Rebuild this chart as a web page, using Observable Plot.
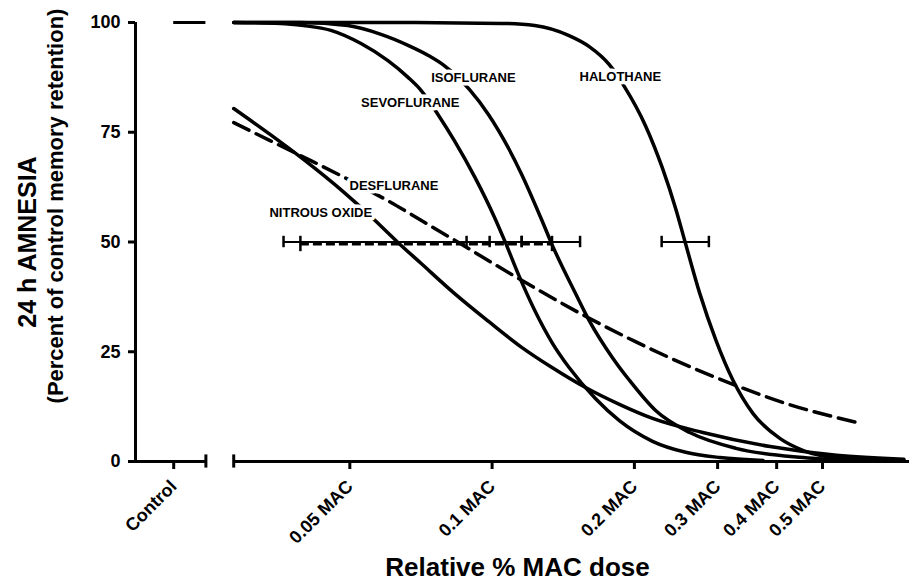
<!DOCTYPE html>
<html><head><meta charset="utf-8">
<script src="https://cdn.jsdelivr.net/npm/d3@7"></script>
<script src="https://cdn.jsdelivr.net/npm/@observablehq/plot@0.6"></script>
<style>body{margin:0;background:#fff}#chart{width:909px;height:584px}</style>
</head><body><div id="chart"></div>
<script>
// ---- data (dose as fraction of MAC, value = % of control memory retention) ----
const halothane = [[0.0284,100],[0.0642,100],[0.1048,99.8],[0.1231,99.3],[0.1455,97.0],[0.1605,94.5],[0.1770,90.4],[0.1905,85.4],[0.2111,76.5],[0.2295,66.7],[0.2446,57.6],[0.2556,50.3],[0.2750,38.3],[0.2976,27.6],[0.3233,18.5],[0.3566,10.9],[0.4069,5.2],[0.4556,2.5],[0.5355,0.9],[0.7436,0.2]];
const isoflurane = [[0.0284,100],[0.0393,100],[0.0495,99.3],[0.0582,97.3],[0.0664,94.8],[0.0733,92.5],[0.0792,90.2],[0.0896,84.7],[0.0983,79.0],[0.1084,71.3],[0.1155,65.4],[0.1275,54.9],[0.1339,49.4],[0.1498,38.5],[0.1605,32.1],[0.1796,23.7],[0.1952,18.5],[0.2218,11.6],[0.2619,6.6],[0.3281,3.0],[0.4556,0.9],[0.5821,0.2]];
const sevoflurane = [[0.0284,100],[0.0357,99.8],[0.0399,99.3],[0.0456,98.2],[0.0528,95.2],[0.0602,91.3],[0.0664,87.5],[0.0708,84.5],[0.0773,78.6],[0.0832,73.1],[0.0918,64.9],[0.1012,55.6],[0.1063,50.3],[0.1139,42.4],[0.1231,34.4],[0.1339,27.1],[0.1455,21.4],[0.1652,14.4],[0.1859,9.3],[0.2185,4.6],[0.2568,2.1],[0.3034,0.9],[0.3744,0.2]];
const nitrousOxide = [[0.0284,80.4],[0.0339,74.5],[0.0399,68.8],[0.0486,61.3],[0.0554,55.8],[0.0632,49.9],[0.0708,45.1],[0.0832,38.3],[0.0983,31.9],[0.1155,26.0],[0.1339,21.4],[0.1573,16.9],[0.1859,13.0],[0.2185,9.8],[0.2791,6.6],[0.3875,3.4],[0.5355,1.4],[0.7436,0.5]];
const desflurane = [[0.0284,77.2],[0.0339,73.1],[0.0393,69.7],[0.0479,65.1],[0.0554,61.5],[0.0611,59.0],[0.0674,56.3],[0.0769,52.6],[0.0849,49.9],[0.0950,46.7],[0.1100,42.6],[0.1256,39.0],[0.1550,33.5],[0.2011,27.3],[0.2619,21.6],[0.3281,17.3],[0.4190,13.2],[0.5906,8.9]];

const errorBarsSolid = [
  {agent:"NITROUS OXIDE", lo:0.0362, hi:0.0988, value:50},
  {agent:"SEVOFLURANE", lo:0.0883, hi:0.1155, value:50},
  {agent:"ISOFLURANE", lo:0.1155, hi:0.1535, value:50},
  {agent:"HALOTHANE", lo:0.2284, hi:0.2875, value:50}
];
const errorBarsDashed = [{agent:"DESFLURANE", lo:0.0393, hi:0.1339, value:50}];

const curveLabels = [
  {name:"HALOTHANE", dose:0.1868, value:87.7},
  {name:"ISOFLURANE", dose:0.0913, value:87.5},
  {name:"SEVOFLURANE", dose:0.0671, value:81.8},
  {name:"DESFLURANE", dose:0.0620, value:62.9},
  {name:"NITROUS OXIDE", dose:0.0434, value:56.7}
];

const controlDose = 0.0212;     // position of the "Control" category on the broken axis
const controlValue = 100;
const controlEnd = 0.0248;      // end of the control axis segment
const mainStart = 0.0284;       // start of the dose axis segment
const xDomain = [0.0176, 0.764];
const xTicks = [controlDose, 0.05, 0.1, 0.2, 0.3, 0.4, 0.5];
const xTickLabels = ["Control", "0.05 MAC", "0.1 MAC", "0.2 MAC", "0.3 MAC", "0.4 MAC", "0.5 MAC"];
const yTicks = [0, 25, 50, 75, 100];

// ---- build tables ----
const toRows = (agent, arr) => arr.map(([dose, value]) => ({agent, dose, value}));
const solidRows = [
  ...toRows("HALOTHANE", halothane),
  ...toRows("ISOFLURANE", isoflurane),
  ...toRows("SEVOFLURANE", sevoflurane),
  ...toRows("NITROUS OXIDE", nitrousOxide)
];
const dashedRows = toRows("DESFLURANE", desflurane);
const solidCaps = errorBarsSolid.flatMap(d => [{x:d.lo, value:d.value}, {x:d.hi, value:d.value}]);
const dashedCaps = errorBarsDashed.flatMap(d => [{x:d.lo, value:d.value}, {x:d.hi, value:d.value}]);
const axisSegments = [{x1:xDomain[0], x2:controlEnd}, {x1:mainStart, x2:xDomain[1]}];

const labelFont = "'Liberation Sans', Arial, sans-serif";

const chart = Plot.plot({
  width: 909,
  height: 584,
  marginLeft: 135,
  marginRight: 0,
  marginTop: 22,
  marginBottom: 123,
  style: {fontFamily: labelFont, color: "black", background: "white"},
  x: {type: "log", domain: xDomain},
  y: {domain: [0, 100]},
  marks: [
    // y axis line
    Plot.ruleX([xDomain[0]], {y1: 0, y2: 100, strokeWidth: 3}),
    Plot.axisY(yTicks, {tickSize: 7, tickPadding: 8, strokeWidth: 3, fontSize: 18, fontWeight: "bold", label: null}),
    // broken x axis
    Plot.ruleY(axisSegments, {x1: "x1", x2: "x2", y: 0, strokeWidth: 3}),
    Plot.ruleX([controlEnd, mainStart], {x: d => d, y1: -1.5, y2: 1.5, strokeWidth: 3}),
    Plot.axisX(xTicks, {tickSize: 8, tickPadding: 14, strokeWidth: 3, tickRotate: -45, fontSize: 18, fontWeight: "bold",
      tickFormat: d => xTickLabels[xTicks.indexOf(d)], label: null}),
    // control level
    Plot.ruleY([controlValue], {x1: controlDose, x2: controlEnd, strokeWidth: 3}),
    // error bars
    Plot.ruleY(errorBarsSolid, {x1: "lo", x2: "hi", y: "value", strokeWidth: 2}),
    Plot.ruleX(solidCaps, {x: "x", y1: d => d.value - 1.3, y2: d => d.value + 1.3, strokeWidth: 2.5}),
    Plot.ruleY(errorBarsDashed, {x1: "lo", x2: "hi", y: "value", dy: 2, strokeWidth: 3, strokeDasharray: "9,4"}),
    Plot.ruleX(dashedCaps, {x: "x", y1: d => d.value - 2.2, y2: d => d.value + 1.3, strokeWidth: 2.5}),
    // curves
    Plot.line(solidRows, {x: "dose", y: "value", z: "agent", curve: "monotone-x", strokeWidth: 3.5}),
    Plot.line(dashedRows, {x: "dose", y: "value", curve: "monotone-x", strokeWidth: 3.5, strokeDasharray: "17,8"}),
    // curve labels (white halo breaks the curves, as in the original)
    Plot.text(curveLabels, {x: "dose", y: "value", text: "name", fontSize: 13, fontWeight: "bold",
      fontFamily: labelFont, fill: "white", stroke: "white", strokeWidth: 7}),
    Plot.text(curveLabels, {x: "dose", y: "value", text: "name", fontSize: 13, fontWeight: "bold", fontFamily: labelFont}),
    // axis titles
    Plot.text(["24 h AMNESIA"], {frameAnchor: "left", textAnchor: "middle", rotate: -90, dx: -108, fontSize: 25, fontWeight: "bold"}),
    Plot.text(["(Percent of control memory retention)"], {frameAnchor: "left", textAnchor: "middle", rotate: -90, dx: -80, dy: -36, fontSize: 22, fontWeight: "bold"}),
    Plot.text(["Relative % MAC dose"], {frameAnchor: "bottom", textAnchor: "middle", lineAnchor: "middle", dy: 106, dx: -5, fontSize: 26, fontWeight: "bold"})
  ]
});
document.getElementById("chart").appendChild(chart);
</script>
</body></html>
